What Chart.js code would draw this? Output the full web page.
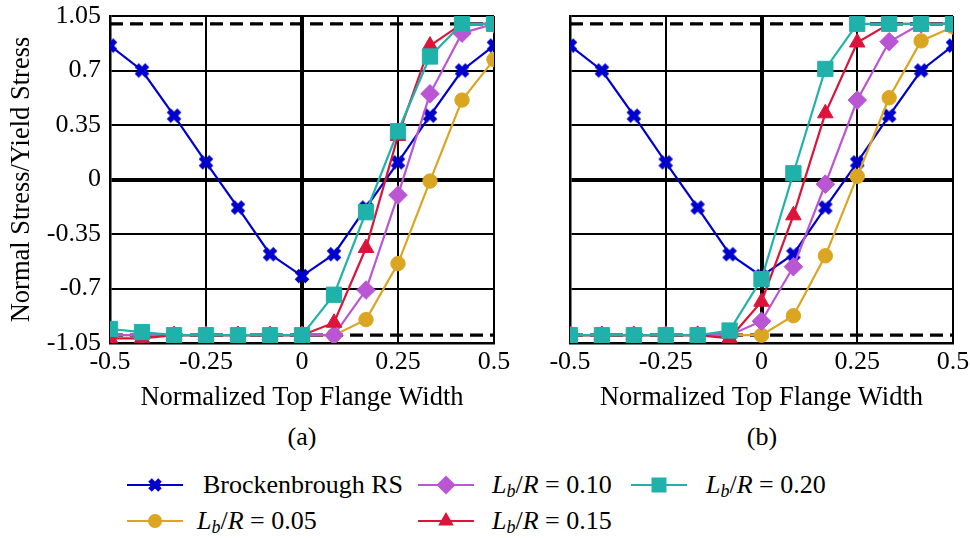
<!DOCTYPE html>
<html>
<head>
<meta charset="utf-8">
<script src="https://cdn.jsdelivr.net/npm/chart.js@4.4.1/dist/chart.umd.min.js"></script>
<style>
  body { margin: 0; background: #fff; width: 970px; height: 538px; position: relative; overflow: hidden;
         font-family: "Liberation Serif", "Times New Roman", serif; color: #000; }
  .wrap { position: absolute; top: 0; height: 420px; }
  #wrapA { left: 0; width: 530px; }
  #wrapB { left: 530px; width: 440px; }
  .tag { position: absolute; top: 422px; font-size: 26px; line-height: 30px; transform: translateX(-50%); }
  .swatch { position: absolute; width: 60px; height: 24px; margin-top: -12px; }
  .keytext { position: absolute; font-size: 26px; line-height: 30px; margin-top: -15px; white-space: nowrap; }
  .keytext sub { font-size: 18px; vertical-align: -4px; line-height: 0; }
</style>
</head>
<body>
<div class="wrap" id="wrapA"><canvas id="chartA" width="530" height="420"></canvas></div>
<div class="wrap" id="wrapB"><canvas id="chartB" width="440" height="420"></canvas></div>
<div class="tag" style="left:302px">(a)</div>
<div class="tag" style="left:762px">(b)</div>
<div id="legend"></div>

<script>
// normalized position across the top flange
const xVals = [-0.5, -0.4167, -0.3333, -0.25, -0.1667, -0.0833, 0, 0.0833, 0.1667, 0.25, 0.3333, 0.4167, 0.5];

const xTicks = [-0.5, -0.25, 0, 0.25, 0.5];
const xTickLabels = ['-0.5', '-0.25', '0', '0.25', '0.5'];
const yTicks = [-1.05, -0.7, -0.35, 0, 0.35, 0.7, 1.05];
const yTickLabels = ['-1.05', '-0.7', '-0.35', '0', '0.35', '0.7', '1.05'];
const yieldLimit = [1, -1];

// (a)
const brockA = [0.86, 0.70, 0.41, 0.11, -0.18, -0.48, -0.62, -0.48, -0.18, 0.11, 0.41, 0.70, 0.86];
const lb05A = [-1.0, -1.0, -1.0, -1.0, -1.0, -1.0, -1.0, -1.0, -0.90, -0.54, -0.01, 0.51, 0.77];
const lb10A = [-1.0, -1.0, -1.0, -1.0, -1.0, -1.0, -1.0, -1.0, -0.71, -0.10, 0.55, 0.94, 1.0];
const lb15A = [-1.02, -1.02, -1.0, -1.0, -1.0, -1.0, -1.0, -0.92, -0.44, 0.28, 0.86, 1.0, 1.0];
const lb20A = [-0.96, -0.98, -1.0, -1.0, -1.0, -1.0, -1.0, -0.74, -0.21, 0.31, 0.79, 1.0, 1.0];

// (b)
const brockB = [0.86, 0.70, 0.41, 0.11, -0.18, -0.48, -0.62, -0.48, -0.18, 0.11, 0.41, 0.70, 0.86];
const lb05B = [-1.0, -1.0, -1.0, -1.0, -1.0, -1.0, -1.0, -0.875, -0.49, 0.02, 0.525, 0.89, 0.98];
const lb10B = [-1.0, -1.0, -1.0, -1.0, -1.0, -1.0, -0.91, -0.56, -0.03, 0.51, 0.885, 1.0, 1.0];
const lb15B = [-1.0, -1.0, -1.0, -1.0, -1.0, -1.02, -0.785, -0.23, 0.425, 0.88, 1.0, 1.0, 1.0];
const lb20B = [-1.0, -1.0, -1.0, -1.0, -1.0, -0.97, -0.64, 0.04, 0.71, 1.0, 1.0, 1.0, 1.0];

const seriesNames = ['Brockenbrough RS', 'Lb/R = 0.05', 'Lb/R = 0.10', 'Lb/R = 0.15', 'Lb/R = 0.20'];
const seriesColors = ['#0000cd', '#daa520', '#ba55d3', '#dc143c', '#20b2aa'];

const FONT = '"Liberation Serif", "Times New Roman", serif';

// bold x marker for the Brockenbrough curve
function crossMarker(color, size) {
  const c = document.createElement('canvas');
  c.width = size; c.height = size;
  const g = c.getContext('2d');
  g.strokeStyle = color;
  g.lineWidth = size * 0.36;
  const a = size * 0.17, b = size - a;
  g.beginPath();
  g.moveTo(a, a); g.lineTo(b, b);
  g.moveTo(b, a); g.lineTo(a, b);
  g.stroke();
  return c;
}

const markers = [
  { style: crossMarker(seriesColors[0], 16), radius: 8 },
  { style: 'circle', radius: 7.2 },
  { style: 'rectRot', radius: 9.3 },
  { style: 'triangle', radius: 9 },
  { style: 'rect', radius: 10.8 }
];

function toPoints(vals) {
  return vals.map((v, i) => ({ x: xVals[i], y: v }));
}

function buildDatasets(seriesVals) {
  const sets = seriesVals.map((vals, i) => ({
    label: seriesNames[i],
    data: toPoints(vals),
    borderColor: seriesColors[i],
    backgroundColor: seriesColors[i],
    pointBackgroundColor: seriesColors[i],
    pointBorderColor: seriesColors[i],
    pointBorderWidth: 1,
    pointStyle: markers[i].style,
    pointRadius: markers[i].radius,
    borderWidth: 2.2,
    order: 5 - i
  }));
  yieldLimit.forEach(v => {
    sets.push({
      label: 'limit',
      data: [{ x: xTicks[0], y: v }, { x: xTicks[xTicks.length - 1], y: v }],
      borderColor: '#000',
      borderWidth: 3.2,
      borderDash: [13, 7],
      pointRadius: 0,
      order: 10
    });
  });
  return sets;
}

function gridWidth(ctx) {
  if (!ctx.tick) return 2;
  return ctx.tick.value === 0 ? 4 : 2;
}

function makeChart(id, seriesVals, withY, padRight, yWidth) {
  return new Chart(document.getElementById(id), {
    type: 'line',
    data: { datasets: buildDatasets(seriesVals) },
    options: {
      responsive: false,
      animation: false,
      layout: { padding: { left: 0, top: 16, right: padRight, bottom: 0 } },
      plugins: { legend: { display: false }, tooltip: { enabled: false } },
      scales: {
        x: {
          type: 'linear',
          min: -0.5, max: 0.5,
          afterBuildTicks: axis => { axis.ticks = xTicks.map(v => ({ value: v })); },
          afterFit: axis => { axis.height = 77; axis.paddingLeft = 0; axis.paddingRight = 0; },
          ticks: {
            callback: (v, i) => xTickLabels[i],
            color: '#000', padding: 4, maxRotation: 0,
            font: { family: FONT, size: 26 }
          },
          grid: { color: '#000', lineWidth: gridWidth, drawTicks: false },
          border: { display: true, color: '#000', width: 2.5 },
          title: {
            display: true, text: 'Normalized Top Flange Width', color: '#000',
            font: { family: FONT, size: 26.5 }, padding: { top: 0, bottom: 6 }
          }
        },
        y: {
          type: 'linear',
          min: -1.05, max: 1.05,
          afterBuildTicks: axis => { axis.ticks = yTicks.map(v => ({ value: v })); },
          afterFit: axis => { axis.width = yWidth; axis.paddingTop = 0; axis.paddingBottom = 0; },
          ticks: {
            display: withY,
            callback: (v, i) => yTickLabels[i],
            color: '#000', padding: 9,
            font: { family: FONT, size: 26 }
          },
          grid: { color: '#000', lineWidth: gridWidth, drawTicks: false },
          border: { display: true, color: '#000', width: 2.5 },
          title: {
            display: withY, text: 'Normal Stress/Yield Stress', color: '#000',
            font: { family: FONT, size: 26.5 }, padding: { top: 6, bottom: 0 }
          }
        }
      }
    }
  });
}

makeChart('chartA', [brockA, lb05A, lb10A, lb15A, lb20A], true, 36, 110);
makeChart('chartB', [brockB, lb05B, lb10B, lb15B, lb20B], false, 17, 40);

// legend, laid out in columns
function markerSvg(i) {
  const c = seriesColors[i];
  const cx = 30, cy = 12;
  let shape = '';
  if (i === 0) {
    shape = `<path d="M${cx - 5} ${cy - 5} L${cx + 5} ${cy + 5} M${cx + 5} ${cy - 5} L${cx - 5} ${cy + 5}" stroke="${c}" stroke-width="5"/>`;
  } else if (i === 1) {
    shape = `<circle cx="${cx}" cy="${cy}" r="7" fill="${c}"/>`;
  } else if (i === 2) {
    shape = `<polygon points="${cx},${cy - 9.5} ${cx + 9.5},${cy} ${cx},${cy + 9.5} ${cx - 9.5},${cy}" fill="${c}"/>`;
  } else if (i === 3) {
    shape = `<polygon points="${cx},${cy - 9} ${cx + 7.8},${cy + 4.5} ${cx - 7.8},${cy + 4.5}" fill="${c}"/>`;
  } else {
    shape = `<rect x="${cx - 7.5}" y="${cy - 7.5}" width="15" height="15" fill="${c}"/>`;
  }
  return `<svg width="60" height="24"><line x1="2" y1="${cy}" x2="58" y2="${cy}" stroke="${c}" stroke-width="2.2"/>${shape}</svg>`;
}

function keyLabel(i) {
  if (i === 0) return seriesNames[0];
  const val = seriesNames[i].split('= ')[1];
  return `<i>L</i><sub><i>b</i></sub>/<i>R</i> = ${val}`;
}

const keySlots = [
  { x: 125, y: 485, tx: 203 },
  { x: 125, y: 521, tx: 197 },
  { x: 416, y: 485, tx: 492 },
  { x: 416, y: 521, tx: 492 },
  { x: 629, y: 485, tx: 706 }
];

const legendEl = document.getElementById('legend');
keySlots.forEach((s, i) => {
  const sw = document.createElement('div');
  sw.className = 'swatch';
  sw.style.left = s.x + 'px';
  sw.style.top = s.y + 'px';
  sw.innerHTML = markerSvg(i);
  legendEl.appendChild(sw);
  const tx = document.createElement('div');
  tx.className = 'keytext';
  tx.style.left = s.tx + 'px';
  tx.style.top = s.y + 'px';
  tx.innerHTML = keyLabel(i);
  legendEl.appendChild(tx);
});
</script>
</body>
</html>
